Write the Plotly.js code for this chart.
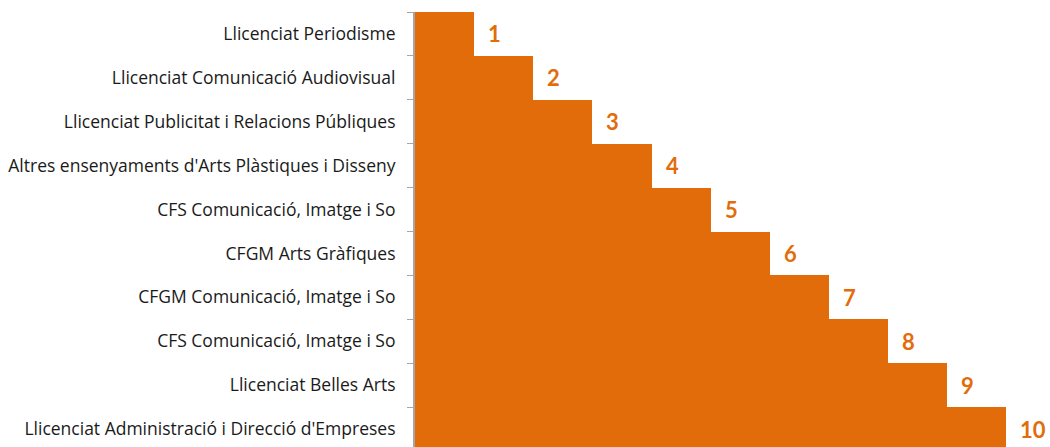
<!DOCTYPE html>
<html><head><meta charset="utf-8">
<script src="https://cdn.plot.ly/plotly-3.0.1.min.js"></script>
<style>html,body{margin:0;padding:0;background:#fff}#chart{width:1050px;height:447px}</style>
</head><body><div id="chart"></div>
<script>
const categories = [
  "Llicenciat Periodisme",
  "Llicenciat Comunicació Audiovisual",
  "Llicenciat Publicitat i Relacions Públiques",
  "Altres ensenyaments d'Arts Plàstiques i Disseny",
  "CFS Comunicació, Imatge i So",
  "CFGM Arts Gràfiques",
  "CFGM Comunicació, Imatge i So",
  "CFS Comunicació, Imatge i So",
  "Llicenciat Belles Arts",
  "Llicenciat Administració i Direcció d'Empreses"
];
const values = [1, 2, 3, 4, 5, 6, 7, 8, 9, 10];
const orange = "#E36C0A";

const idx = categories.map((c, i) => i);
const bounds = categories.map((c, i) => i - 0.5).concat([categories.length - 0.5]);

const trace = {
  type: "bar", orientation: "h",
  x: values, y: idx, width: 1,
  marker: {color: orange, line: {width: 0}},
  hoverinfo: "skip"
};
const annotations = values.map((v, i) => ({
  x: v, y: idx[i], xref: "x", yref: "y",
  text: String(v), showarrow: false, xanchor: "left", yanchor: "middle",
  xshift: 12, yshift: 0,
  font: {family: "Lato, sans-serif", size: 22, color: orange, weight: "bold"}
}));
const layout = {
  width: 1050, height: 447,
  margin: {l: 415, r: 0, t: 12, b: 0},
  paper_bgcolor: "#fff", plot_bgcolor: "#fff",
  bargap: 0,
  showlegend: false,
  font: {family: "'Open Sans', sans-serif", size: 17.5, color: "#1a1a1a"},
  xaxis: {range: [0, 10.74], visible: false, fixedrange: true},
  yaxis: {
    range: [9.409, -0.5],
    showline: true, linecolor: "#a6a6a6", linewidth: 2,
    tickmode: "array", tickvals: idx, ticktext: categories,
    ticks: "", ticklabelstandoff: 14,
    minor: {tickmode: "array", tickvals: bounds, ticks: "outside", ticklen: 6, tickcolor: "#a6a6a6", tickwidth: 1, showgrid: false},
    showgrid: false, zeroline: false,
    tickfont: {family: "'Open Sans', sans-serif", size: 17.5, color: "#1a1a1a"}
  },
  annotations: annotations
};
Plotly.newPlot("chart", [trace], layout, {displayModeBar: false, staticPlot: true});
</script></body></html>
